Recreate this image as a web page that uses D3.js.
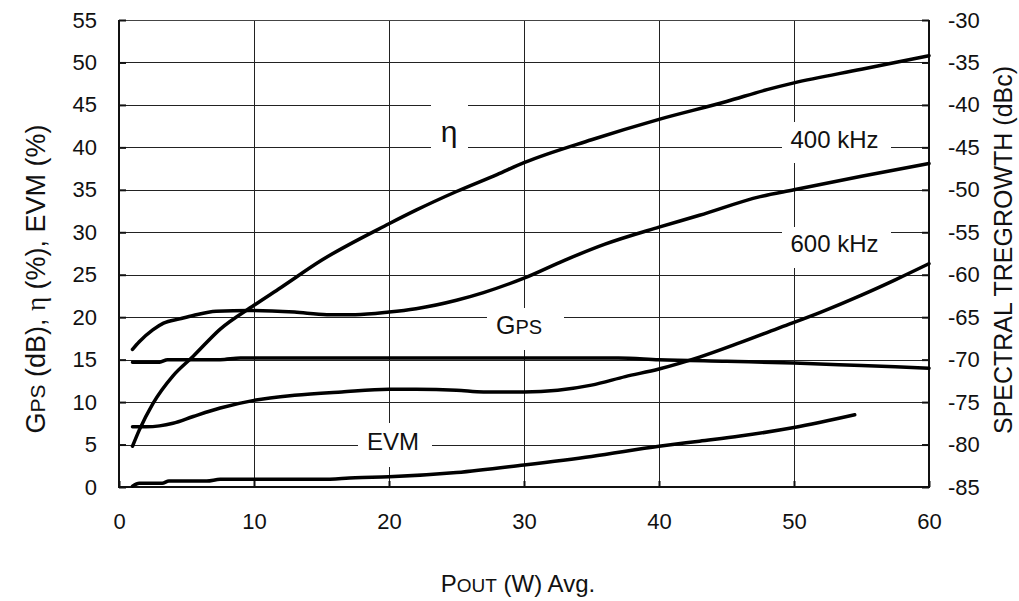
<!DOCTYPE html>
<html>
<head>
<meta charset="utf-8">
<script src="https://cdn.jsdelivr.net/npm/d3@7/dist/d3.min.js"></script>
<style>
  html, body { margin: 0; padding: 0; background: #fff; }
  svg { display: block; }
  text { font-family: "Liberation Sans", Arial, sans-serif; fill: #111; }
</style>
</head>
<body>
<svg id="chart" width="1019" height="601"></svg>
<script>
// Output power (W avg.) axis ticks and left/right scale ticks
const xTicks = [0, 10, 20, 30, 40, 50, 60];
const yTicks = [0, 5, 10, 15, 20, 25, 30, 35, 40, 45, 50, 55];
const yRightTicks = [-85, -80, -75, -70, -65, -60, -55, -50, -45, -40, -35, -30];

// Drain efficiency η (%)
const etaX = [1, 1.5, 2.5, 4, 5.5, 7.5, 10, 12, 15, 20, 22, 25, 28, 30, 35, 40, 45, 48, 50, 55, 60];
const etaY = [4.8, 6.7, 9.8, 13.1, 15.4, 18.6, 21.4, 23.5, 26.7, 31.0, 32.6, 34.8, 36.8, 38.2, 40.9, 43.3, 45.4, 46.8, 47.6, 49.2, 50.8];

// Spectral regrowth at 400 kHz offset (plotted on left scale, right scale = left - 85)
const r400X = [1, 1.5, 2.5, 3.3, 4.5, 5.5, 7.2, 9.7, 13, 15.4, 17.5, 20, 22, 25, 27, 30, 33, 36, 40, 43, 47.5, 50, 55, 60];
const r400Y = [16.2, 17.1, 18.5, 19.3, 19.8, 20.2, 20.7, 20.8, 20.6, 20.3, 20.3, 20.6, 21.0, 22.0, 22.9, 24.6, 26.7, 28.6, 30.6, 32.0, 34.2, 35.0, 36.6, 38.1];

// Spectral regrowth at 600 kHz offset
const r600X = [1, 2, 3, 4, 5.5, 7.5, 10, 13, 16.5, 20, 22, 25, 27, 30, 32.5, 35, 37.5, 40, 43, 46, 49, 52, 55, 57.5, 60];
const r600Y = [7.1, 7.1, 7.2, 7.5, 8.3, 9.3, 10.2, 10.8, 11.2, 11.5, 11.5, 11.4, 11.2, 11.2, 11.4, 12.0, 13.0, 13.9, 15.3, 17.0, 18.8, 20.6, 22.6, 24.4, 26.3];

// Power gain GPS (dB)
const gpsX = [1, 3, 3.6, 7.5, 9, 20, 30, 37, 40, 45, 50, 55, 60];
const gpsY = [14.7, 14.7, 15.0, 15.0, 15.2, 15.2, 15.2, 15.2, 15.0, 14.8, 14.6, 14.3, 14.0];

// Error vector magnitude EVM (%)
const evmX = [1, 1.5, 3.2, 3.7, 6.5, 7.5, 15, 17.5, 20, 25, 30, 35, 40, 43, 46, 50, 54.5];
const evmY = [0.1, 0.45, 0.45, 0.7, 0.7, 0.9, 0.9, 1.1, 1.2, 1.7, 2.6, 3.6, 4.8, 5.4, 6.0, 7.0, 8.5];

const seriesList = [
  { x: etaX, y: etaY },
  { x: r400X, y: r400Y },
  { x: r600X, y: r600Y },
  { x: gpsX, y: gpsY },
  { x: evmX, y: evmY }
];

const svg = d3.select("#chart");
const x = d3.scaleLinear().domain([0, 60]).range([119, 929]);
const y = d3.scaleLinear().domain([0, 55]).range([487, 20]);
const yR = d3.scaleLinear().domain([-85, -30]).range([487, 20]);

const crisp = v => Math.round(v) + 0.5;

// grid
const grid = svg.append("g");
grid.selectAll("line.h").data(yTicks.filter(t => t > 0 && t < 55)).join("line")
  .attr("x1", x(0)).attr("x2", x(60))
  .attr("y1", d => crisp(y(d))).attr("y2", d => crisp(y(d)))
  .attr("stroke", "#222").attr("stroke-width", 1);
grid.selectAll("line.v").data(xTicks.filter(t => t > 0 && t < 60)).join("line")
  .attr("y1", y(0)).attr("y2", y(55))
  .attr("x1", d => crisp(x(d))).attr("x2", d => crisp(x(d)))
  .attr("stroke", "#222").attr("stroke-width", 1);

// frame
svg.append("line").attr("x1", x(0)).attr("x2", x(60)).attr("y1", crisp(y(55))).attr("y2", crisp(y(55)))
  .attr("stroke", "#444").attr("stroke-width", 1);
svg.append("line").attr("x1", x(0)).attr("x2", x(0)).attr("y1", y(55)).attr("y2", y(0) + 1)
  .attr("stroke", "#111").attr("stroke-width", 2);
svg.append("line").attr("x1", x(60)).attr("x2", x(60)).attr("y1", y(55)).attr("y2", y(0) + 1)
  .attr("stroke", "#111").attr("stroke-width", 2);
svg.append("line").attr("x1", x(0) - 1).attr("x2", x(60) + 1).attr("y1", y(0)).attr("y2", y(0))
  .attr("stroke", "#111").attr("stroke-width", 2);

// axes via d3 axis generators, ticks pointing inward
const plain = d => String(d);
const leftAxis = svg.append("g").attr("transform", `translate(${x(0)},0)`)
  .call(d3.axisLeft(y).tickValues(yTicks).tickSize(-7).tickPadding(22).tickFormat(plain));
const rightAxis = svg.append("g").attr("transform", `translate(${x(60)},0)`)
  .call(d3.axisRight(yR).tickValues(yRightTicks).tickSize(-7).tickPadding(19).tickFormat(plain));
const bottomAxis = svg.append("g").attr("transform", `translate(0,${y(0)})`)
  .call(d3.axisBottom(x).tickValues(xTicks).tickSize(-6).tickPadding(26).tickFormat(plain));

[leftAxis, rightAxis, bottomAxis].forEach(g => {
  g.select(".domain").remove();
  g.selectAll(".tick line").attr("stroke", "#111").attr("stroke-width", 2);
  g.selectAll(".tick text").attr("font-size", 22).attr("fill", "#111")
    .attr("font-family", "Liberation Sans, Arial, sans-serif");
});

// label boxes that interrupt the grid
const labelBoxes = [
  { x0: 431, x1: 468, y0: 98, y1: 158 },
  { x0: 782, x1: 891, y0: 122, y1: 163 },
  { x0: 782, x1: 891, y0: 227, y1: 268 },
  { x0: 487, x1: 564, y0: 308, y1: 350 },
  { x0: 358, x1: 432, y0: 423, y1: 467 }
];
svg.append("g").selectAll("rect").data(labelBoxes).join("rect")
  .attr("x", d => d.x0).attr("y", d => d.y0)
  .attr("width", d => d.x1 - d.x0).attr("height", d => d.y1 - d.y0)
  .attr("fill", "#fff");

// curves
const line = d3.line().x(d => x(d[0])).y(d => y(d[1])).curve(d3.curveMonotoneX);
svg.append("g").selectAll("path").data(seriesList).join("path")
  .attr("d", s => line(s.x.map((v, i) => [v, s.y[i]])))
  .attr("fill", "none").attr("stroke", "#000").attr("stroke-width", 3.5)
  .attr("stroke-linejoin", "round").attr("stroke-linecap", "round");

// curve labels
svg.append("text").attr("x", 449).attr("y", 142).attr("text-anchor", "middle")
  .attr("font-family", "Liberation Serif, DejaVu Serif, serif").attr("font-size", 30).text("η");
svg.append("text").attr("x", 834.5).attr("y", 148).attr("text-anchor", "middle")
  .attr("font-size", 24).text("400 kHz");
svg.append("text").attr("x", 834.5).attr("y", 252).attr("text-anchor", "middle")
  .attr("font-size", 24).text("600 kHz");
const gpsLabel = svg.append("text").attr("x", 519).attr("y", 334).attr("text-anchor", "middle").attr("font-size", 25);
gpsLabel.append("tspan").text("G");
gpsLabel.append("tspan").attr("font-size", 20).text("PS");
svg.append("text").attr("x", 393).attr("y", 450).attr("text-anchor", "middle")
  .attr("font-size", 24).text("EVM");

// axis titles
const leftTitle = svg.append("text").attr("transform", "translate(45,279) rotate(-90)")
  .attr("text-anchor", "middle").attr("font-size", 27);
leftTitle.append("tspan").text("G");
leftTitle.append("tspan").attr("font-size", 21).text("PS");
leftTitle.append("tspan").text(" (dB), ");
leftTitle.append("tspan").attr("font-family", "Liberation Serif, DejaVu Serif, serif").text("η");
leftTitle.append("tspan").text(" (%), EVM (%)");

svg.append("text").attr("transform", "translate(1012,250) rotate(-90)")
  .attr("text-anchor", "middle").attr("font-size", 25).text("SPECTRAL TREGROWTH (dBc)");

const xTitle = svg.append("text").attr("x", 518).attr("y", 592).attr("text-anchor", "middle").attr("font-size", 24);
xTitle.append("tspan").text("P");
xTitle.append("tspan").attr("font-size", 19).text("OUT");
xTitle.append("tspan").text(" (W) Avg.");
</script>
</body>
</html>
